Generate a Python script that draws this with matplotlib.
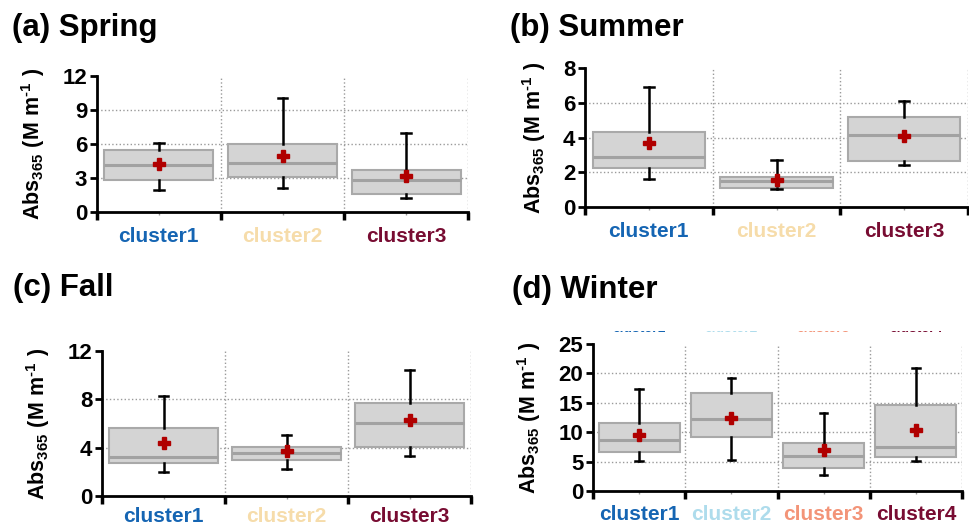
import matplotlib
matplotlib.use("Agg")
import matplotlib.pyplot as plt
from matplotlib.patches import Rectangle

plt.rcParams['font.family'] = ['Liberation Sans', 'DejaVu Sans']
plt.rcParams['font.weight'] = 'bold'
plt.rcParams['mathtext.fontset'] = 'custom'
plt.rcParams['mathtext.rm'] = 'Liberation Sans:bold'
plt.rcParams['mathtext.bf'] = 'Liberation Sans:bold'
plt.rcParams['mathtext.it'] = 'Liberation Sans:bold'

# ---- data: box statistics of Abs365 per cluster and season ----
clusters3 = ['cluster1', 'cluster2', 'cluster3']
clusters4 = ['cluster1', 'cluster2', 'cluster3', 'cluster4']

spring_q1 = [2.85, 3.05, 1.60]
spring_med = [4.15, 4.30, 2.85]
spring_q3 = [5.50, 6.00, 3.75]
spring_lo = [1.95, 2.15, 1.25]
spring_hi = [6.10, 10.05, 7.00]
spring_mean = [4.20, 4.95, 3.15]

summer_q1 = [2.25, 1.08, 2.65]
summer_med = [2.90, 1.50, 4.12]
summer_q3 = [4.30, 1.72, 5.17]
summer_lo = [1.63, 1.02, 2.44]
summer_hi = [6.88, 2.69, 6.12]
summer_mean = [3.70, 1.56, 4.06]

fall_q1 = [2.75, 2.97, 4.05]
fall_med = [3.25, 3.52, 6.03]
fall_q3 = [5.60, 4.02, 7.72]
fall_lo = [2.00, 2.20, 3.30]
fall_hi = [8.27, 5.04, 10.45]
fall_mean = [4.35, 3.73, 6.30]

winter_q1 = [6.55, 9.25, 3.85, 5.85]
winter_med = [8.65, 12.20, 5.95, 7.55]
winter_q3 = [11.55, 16.72, 8.20, 14.60]
winter_lo = [5.15, 5.35, 2.75, 5.15]
winter_hi = [17.30, 19.20, 13.30, 21.00]
winter_mean = [9.50, 12.45, 7.00, 10.45]

colors3 = ['#1565b3', '#f6dcaa', '#780c32']
colors4 = ['#1565b3', '#aedcec', '#f39478', '#780c32']

spring_ticks = [0, 3, 6, 9, 12]
summer_ticks = [0, 2, 4, 6, 8]
fall_ticks = [0, 4, 8, 12]
winter_ticks = [0, 5, 10, 15, 20, 25]

W, H = 969, 526
fig = plt.figure(figsize=(W / 100, H / 100), dpi=100)


def px_axes(left, right, top, bottom):
    return fig.add_axes([left / W, (H - bottom) / H, (right - left) / W, (bottom - top) / H])


def panel(ax, names, colors, q1, med, q3, lo, hi, mean, ticks, xpad=9):
    n = len(names)
    stats = []
    for i in range(n):
        stats.append(dict(med=med[i], q1=q1[i], q3=q3[i], whislo=lo[i],
                          whishi=hi[i], mean=mean[i], fliers=[]))
    pos = list(range(1, n + 1))
    ax.bxp(stats, positions=pos, widths=0.88, patch_artist=True,
           showmeans=True, showfliers=False,
           boxprops=dict(facecolor='#d4d4d4', edgecolor='#a9a9a9', linewidth=1.5),
           medianprops=dict(color='#a2a2a2', linewidth=2.2),
           whiskerprops=dict(color='black', linewidth=1.8),
           capprops=dict(color='black', linewidth=1.8),
           capwidths=0.08,
           meanprops=dict(marker='P', markerfacecolor='#b00000',
                          markeredgecolor='#b00000', markersize=9),
           zorder=3)
    ax.set_xlim(0.5, n + 0.5)
    ax.set_ylim(ticks[0], ticks[-1])
    # dotted grid: category boundaries and inner value ticks
    for b in range(1, n + 1):
        ax.axvline(b + 0.5, color='#9a9a9a', linestyle=':', linewidth=1.0, zorder=1)
    for t in ticks[1:-1]:
        ax.axhline(t, color='#9a9a9a', linestyle=':', linewidth=1.0, zorder=1)
    ax.spines['top'].set_visible(False)
    ax.spines['right'].set_visible(False)
    ax.spines['left'].set_linewidth(2.0)
    ax.spines['bottom'].set_linewidth(2.0)
    ax.set_yticks(ticks)
    ax.set_yticklabels([str(t) for t in ticks], fontsize=16, fontweight='bold')
    ax.tick_params(axis='y', direction='out', length=5, width=2, pad=2)
    ax.set_xticks(pos)
    ax.set_xticklabels(names, fontsize=15, fontweight='bold')
    for lab, c in zip(ax.get_xticklabels(), colors):
        lab.set_color(c)
    ax.tick_params(axis='x', which='major', length=2, width=1, color='#999999', pad=xpad)
    ax.set_xticks([b + 0.5 for b in range(0, n + 1)], minor=True)
    ax.tick_params(axis='x', which='minor', direction='out', length=6, width=2.5)
    ax.set_ylabel(r'$\mathbf{Abs_{365}\ (M\ m^{\text{-1}}\ )}$', fontsize=15.5, labelpad=11)
    ax.set_facecolor('none')


ax_a = px_axes(97, 468, 76, 212)
panel(ax_a, clusters3, colors3, spring_q1, spring_med, spring_q3,
      spring_lo, spring_hi, spring_mean, spring_ticks)
ax_b = px_axes(585, 968, 68, 207)
panel(ax_b, clusters3, colors3, summer_q1, summer_med, summer_q3,
      summer_lo, summer_hi, summer_mean, summer_ticks)
ax_c = px_axes(102, 471, 351, 496)
panel(ax_c, clusters3, colors3, fall_q1, fall_med, fall_q3,
      fall_lo, fall_hi, fall_mean, fall_ticks, xpad=6)
ax_d = px_axes(593, 962, 344, 491)
panel(ax_d, clusters4, colors4, winter_q1, winter_med, winter_q3,
      winter_lo, winter_hi, winter_mean, winter_ticks, xpad=8)

# panel titles
title_kw = dict(fontsize=22.5, fontweight='bold', va='top', ha='left')
fig.text(12 / W, 1 - 13 / H, '(a) Spring', **title_kw)
fig.text(510 / W, 1 - 13 / H, '(b) Summer', **title_kw)
fig.text(13 / W, 1 - 273 / H, '(c) Fall', **title_kw)
fig.text(512 / W, 1 - 275 / H, '(d) Winter', **title_kw)

# remnants of a second label row above the winter panel, mostly hidden
for i, (name, c) in enumerate(zip(clusters4, colors4)):
    xc = 593 + (i + 0.5) * (962 - 593) / 4
    fig.text(xc / W, 1 - 331.5 / H, name, fontsize=10, fontweight='bold', color=c,
             ha='center', va='baseline', zorder=2)
fig.patches.append(Rectangle((560 / W, 1 - 330.8 / H), 409 / W, 20 / H,
                             transform=fig.transFigure, facecolor='white',
                             edgecolor='none', zorder=5))

fig.savefig('out.png', dpi=100)
